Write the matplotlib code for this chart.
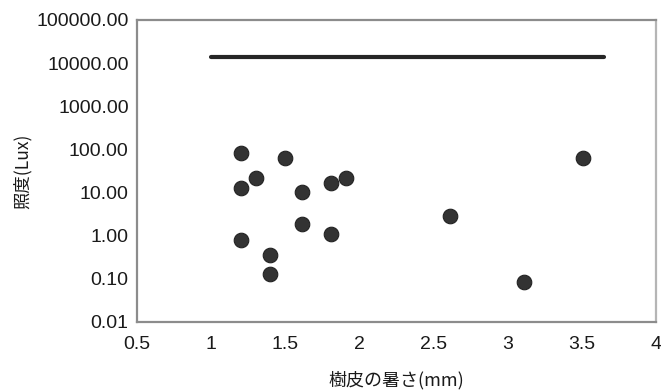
import matplotlib
matplotlib.use("Agg")
import matplotlib.pyplot as plt
from matplotlib.ticker import FixedLocator, NullLocator

plt.rcParams['font.family'] = ['Liberation Sans', 'Noto Sans CJK JP', 'DejaVu Sans']

# Data
bark_thickness = [1.20, 1.50, 1.30, 1.20, 1.61, 1.81, 1.91, 1.61, 1.81, 1.20, 1.40, 1.40, 3.51, 2.61, 3.11]
illuminance = [81, 62, 22, 13, 10.4, 17, 22, 1.9, 1.08, 0.79, 0.35, 0.128, 62, 2.8, 0.085]

line_x = [1.0, 3.65]
line_y = [14000, 14000]

x_ticks = [0.5, 1, 1.5, 2, 2.5, 3, 3.5, 4]
x_tick_labels = ['0.5', '1', '1.5', '2', '2.5', '3', '3.5', '4']
y_ticks = [0.01, 0.1, 1, 10, 100, 1000, 10000, 100000]
y_tick_labels = ['0.01', '0.10', '1.00', '10.00', '100.00', '1000.00', '10000.00', '100000.00']

fig = plt.figure(figsize=(6.61, 3.92), dpi=100)
ax = fig.add_axes([137/661, 70/392, 519/661, 302/392])

ax.plot(line_x, line_y, color='#262626', lw=3.0, solid_capstyle='round', zorder=2)
ax.scatter(bark_thickness, illuminance, s=110, color='#333333', edgecolors='#222222',
           linewidths=0.8, zorder=3)

ax.set_yscale('log')
ax.set_xlim(0.5, 4)
ax.set_ylim(0.01, 100000)

ax.xaxis.set_major_locator(FixedLocator(x_ticks))
ax.set_xticklabels(x_tick_labels)
ax.yaxis.set_major_locator(FixedLocator(y_ticks))
ax.yaxis.set_minor_locator(NullLocator())
ax.set_yticklabels(y_tick_labels)

ax.tick_params(axis='both', length=0, labelsize=14, colors='#1a1a1a')
ax.tick_params(axis='x', pad=10)
ax.tick_params(axis='y', pad=6)

for side in ['left', 'bottom', 'top', 'right']:
    ax.spines[side].set_color('#8c8c8c')
    ax.spines[side].set_linewidth(1.6)
ax.spines['right'].set_color('#b5b5b5')

ax.set_xlabel('樹皮の暑さ(mm)', fontsize=13, family=['Noto Sans CJK JP', 'DejaVu Sans'],
              labelpad=13, color='#1a1a1a')
ax.set_ylabel('照度(Lux)', fontsize=12.5, family=['Noto Sans CJK JP', 'DejaVu Sans'],
              labelpad=3, color='#1a1a1a')

fig.savefig('out.png', dpi=100)
